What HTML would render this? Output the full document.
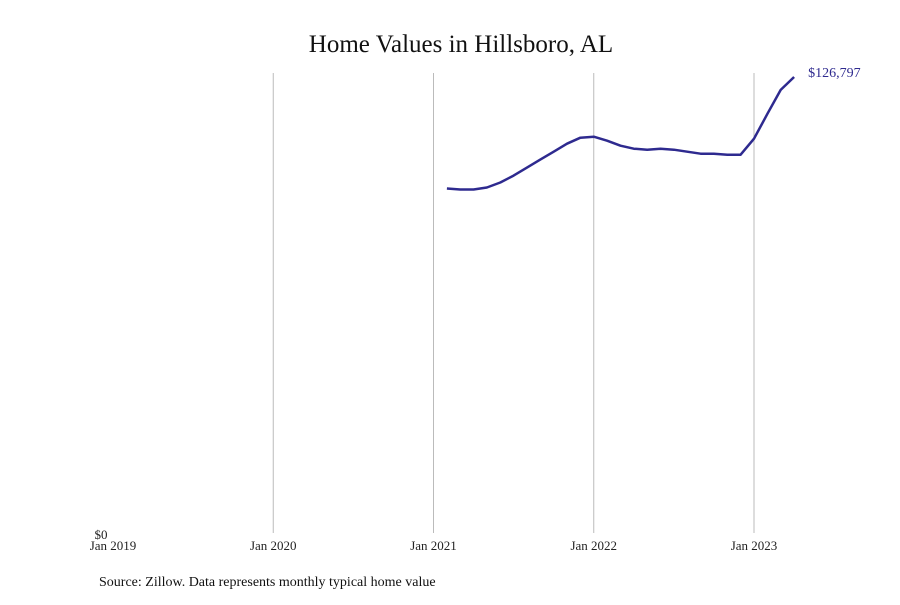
<!DOCTYPE html>
<html><head><meta charset="utf-8"><style>
body{margin:0;background:#fff;width:900px;height:600px;overflow:hidden;font-family:"Liberation Serif",serif;}
</style></head><body>
<svg width="900" height="600">
<text x="461" y="52" text-anchor="middle" font-size="25" fill="#111">Home Values in Hillsboro, AL</text>
<g id="grid"></g><g id="xlabels"></g>
<text x="101" y="539" text-anchor="middle" font-size="13" fill="#222">$0</text>
<path id="line" fill="none" stroke="#2e2a8f" stroke-width="2.5" stroke-linejoin="round"/>
<text id="endlabel" font-size="14" fill="#2e2a8f"></text>
<text x="99" y="586" font-size="14" fill="#111">Source: Zillow. Data represents monthly typical home value</text>
</svg>
<script>
const tickLabels=["Jan 2019","Jan 2020","Jan 2021","Jan 2022","Jan 2023"];
const startMonthIndex=25; // Feb 2021, months since Jan 2019
const values=[95926,95650,95650,96202,97580,99510,101715,103920,106125,108330,109984,110260,109157,107779,106952,106677,106952,106677,106125,105574,105574,105298,105298,109709,116600,123216,126797];
const yMax=126797;
const ns="http://www.w3.org/2000/svg";
const x=m=>113+m*(160.25/12);
const y=v=>535-v/yMax*458;
const grid=document.getElementById('grid'),xl=document.getElementById('xlabels');
tickLabels.forEach((t,i)=>{
  const px=x(i*12);
  if(i>0){const l=document.createElementNS(ns,'line');
  l.setAttribute('x1',px);l.setAttribute('x2',px);l.setAttribute('y1',73);l.setAttribute('y2',533);
  l.setAttribute('stroke','#bbb');l.setAttribute('stroke-width','1');
  
  
  grid.appendChild(l);}
  const tx=document.createElementNS(ns,'text');
  tx.setAttribute('x',px);tx.setAttribute('y',550);tx.setAttribute('text-anchor','middle');
  tx.setAttribute('font-size','13');tx.setAttribute('fill','#222');tx.textContent=t;
  
  
  xl.appendChild(tx);
});
let d='';values.forEach((v,i)=>{d+=(i?'L':'M')+x(startMonthIndex+i).toFixed(1)+','+y(v).toFixed(1);});
document.getElementById('line').setAttribute('d',d);
const last=values[values.length-1],el=document.getElementById('endlabel');
el.setAttribute('x',x(startMonthIndex+values.length-1)+14);el.setAttribute('y',y(last));
el.textContent='$'+last.toLocaleString('en-US');
</script>
</body></html>
